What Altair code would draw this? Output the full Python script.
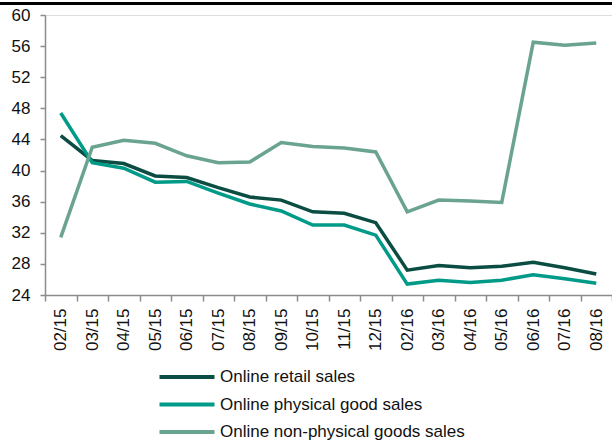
import altair as alt
import pandas as pd

months = ["02/15", "03/15", "04/15", "05/15", "06/15", "07/15", "08/15", "09/15",
          "10/15", "11/15", "12/15", "02/16", "03/16", "04/16", "05/16", "06/16",
          "07/16", "08/16"]
series_names = ["Online retail sales", "Online physical good sales",
                "Online non-physical goods sales"]
retail = [44.5, 41.3, 40.9, 39.3, 39.1, 37.8, 36.6, 36.2, 34.7, 34.5, 33.3,
          27.2, 27.8, 27.5, 27.7, 28.2, 27.5, 26.7]
physical = [47.4, 41.0, 40.3, 38.5, 38.6, 37.1, 35.7, 34.8, 33.0, 33.0, 31.7,
            25.4, 25.9, 25.6, 25.9, 26.6, 26.1, 25.5]
non_physical = [31.4, 43.0, 43.9, 43.5, 41.9, 41.0, 41.1, 43.6, 43.1, 42.9, 42.4,
                34.7, 36.2, 36.1, 35.9, 56.5, 56.1, 56.4]
colors = ["#0b4d42", "#009a88", "#6aa390"]
y_ticks = [24, 28, 32, 36, 40, 44, 48, 52, 56, 60]

rows = []
for name, vals in zip(series_names, [retail, physical, non_physical]):
    for i, (m, v) in enumerate(zip(months, vals)):
        rows.append({"month": m, "value": v, "series": name,
                     "order": series_names.index(name)})
df = pd.DataFrame(rows)

FONT = "Liberation Sans"
W, H = 567, 280

lines = alt.Chart(df).mark_line(strokeWidth=3.5).encode(
    x=alt.X("month:N", sort=months, bandPosition=0.5,
            scale=alt.Scale(type="band", paddingInner=0, paddingOuter=0),
            axis=alt.Axis(title=None, labelAngle=-90, tickBand="extent",
                          tickSize=6, labelPadding=7, labelFontSize=17,
                          labelFont=FONT, labelColor="#111",
                          domainColor="#8c8c8c", tickColor="#8c8c8c",
                          domainWidth=1.5, tickWidth=1.5, grid=False)),
    y=alt.Y("value:Q", scale=alt.Scale(domain=[24, 60], nice=False, zero=False),
            axis=alt.Axis(title=None, values=y_ticks, tickSize=5,
                          labelPadding=10, labelFontSize=17, labelFont=FONT,
                          labelColor="#111", domainColor="#8c8c8c",
                          tickColor="#8c8c8c", domainWidth=1.5, tickWidth=1.5,
                          grid=False)),
    color=alt.Color("series:N",
                    scale=alt.Scale(domain=series_names, range=colors),
                    legend=alt.Legend(title=None, orient="none",
                                      legendX=129, legendY=349,
                                      symbolType="M-2.5,0H2.5", symbolSize=484,
                                      symbolStrokeWidth=4, labelOffset=20,
                                      rowPadding=6.5, labelFontSize=17,
                                      labelFont=FONT, labelColor="#111",
                                      labelLimit=0, padding=0)),
    order=alt.Order("order:Q"),
)

top_bar = alt.Chart(pd.DataFrame({"a": [0]})).mark_rule(
    color="#000000", strokeWidth=3, clip=False).encode(
    x=alt.value(-45), x2=alt.value(W), y=alt.value(-11.5))

chart = alt.layer(top_bar, lines).properties(
    width=W, height=H,
    autosize=alt.AutoSizeParams(type="none"),
    padding={"left": 45, "top": 15, "right": 0, "bottom": 149},
).configure_view(stroke=None).configure(background="white")

chart.save("out.html", embed_options={"renderer": "svg", "actions": False})
